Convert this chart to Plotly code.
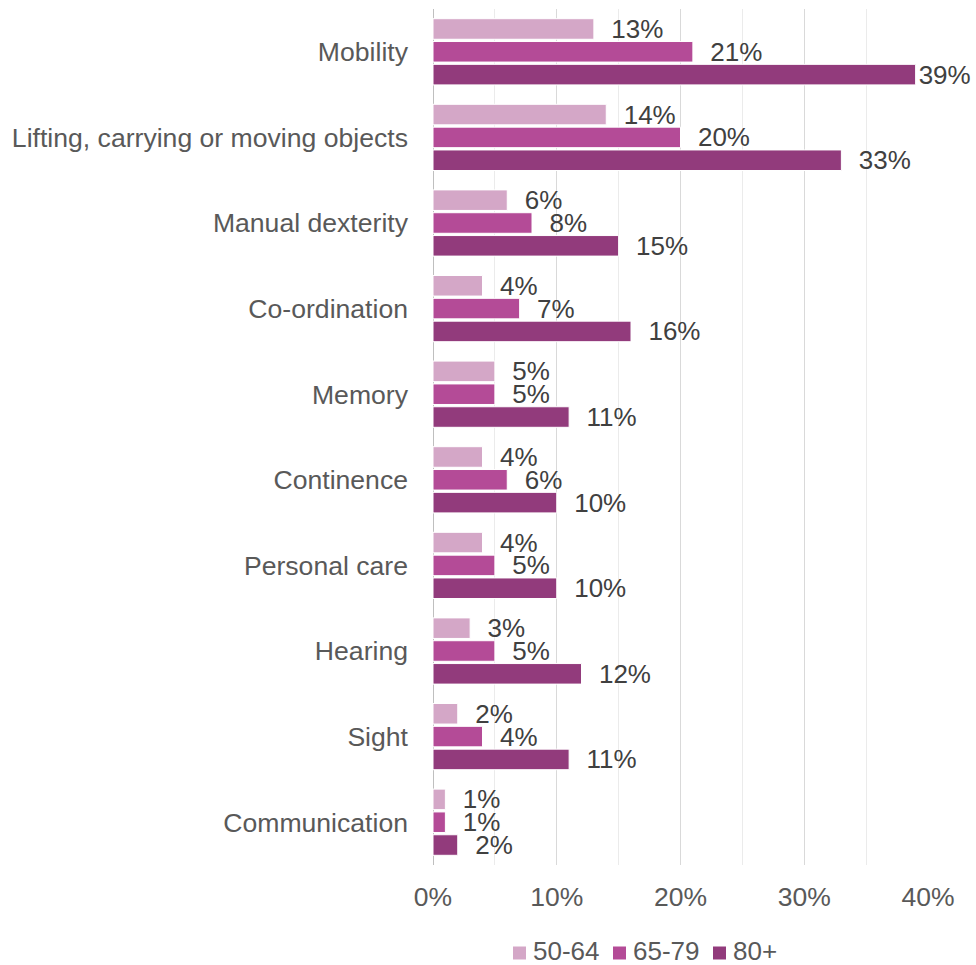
import plotly.graph_objects as go

categories = ["Mobility", "Lifting, carrying or moving objects", "Manual dexterity",
              "Co-ordination", "Memory", "Continence", "Personal care",
              "Hearing", "Sight", "Communication"]
age_50_64 = [13, 14, 6, 4, 5, 4, 4, 3, 2, 1]
age_65_79 = [21, 20, 8, 7, 5, 6, 5, 5, 4, 1]
age_80_plus = [39, 33, 15, 16, 11, 10, 10, 12, 11, 2]
series_names = ["50-64", "65-79", "80+"]
series_colors = ["#D4A7C7", "#B44B97", "#923B7C"]
x_ticks = [0, 0.1, 0.2, 0.3, 0.4]
x_tick_labels = ["0%", "10%", "20%", "30%", "40%"]

FONT = "Arial, 'Liberation Sans', sans-serif"

# figure geometry (pixels)
W, H = 976, 965
M_L, M_R, M_T, M_B = 433, 48, 9, 100
PLOT_W = W - M_L - M_R
PLOT_H = H - M_T - M_B


def px_to_paper_x(px):
    return (px - M_L) / PLOT_W


def px_to_paper_y(py):
    return (H - M_B - py) / PLOT_H


def labels(values):
    out = []
    for v in values:
        pad = "" if v >= 38 else "\u00a0\u00a0"
        out.append(f"{pad}{v}%")
    return out


fig = go.Figure()
for name, vals, col in zip(series_names, [age_50_64, age_65_79, age_80_plus], series_colors):
    fig.add_trace(go.Bar(
        y=categories,
        x=[v / 100 for v in vals],
        name=name,
        orientation="h",
        marker=dict(color=col, line=dict(color="white", width=1)),
        text=labels(vals),
        textposition="outside",
        constraintext="none",
        cliponaxis=False,
        textfont=dict(family=FONT, size=26, color="#404040"),
        hoverinfo="skip",
        showlegend=False,
    ))

# compact legend: small colour squares followed by series names
LEG_X0, LEG_STEP, LEG_Y, SQ = 513, 100, 951, 13
for i, (name, col) in enumerate(zip(series_names, series_colors)):
    x0 = LEG_X0 + i * LEG_STEP
    fig.add_shape(type="rect", xref="paper", yref="paper",
                  x0=px_to_paper_x(x0), x1=px_to_paper_x(x0 + SQ),
                  y0=px_to_paper_y(LEG_Y + 2 + SQ / 2), y1=px_to_paper_y(LEG_Y + 2 - SQ / 2),
                  fillcolor=col, line=dict(width=0))
    fig.add_annotation(x=px_to_paper_x(x0 + SQ + 6), y=px_to_paper_y(LEG_Y),
                       xref="paper", yref="paper", xanchor="left", yanchor="middle",
                       text=name, showarrow=False, borderpad=0,
                       font=dict(family=FONT, size=26, color="#595959"))

fig.update_layout(
    width=W, height=H,
    paper_bgcolor="white", plot_bgcolor="white",
    barmode="group", bargap=0.2, bargroupgap=0.1,
    margin=dict(l=M_L, r=M_R, t=M_T, b=M_B),
    font=dict(family=FONT, color="#595959"),
    xaxis=dict(range=[0, 0.4], tickvals=x_ticks, ticktext=x_tick_labels,
               tickfont=dict(family=FONT, size=26.5, color="#595959"),
               showgrid=True, gridcolor="#D9D9D9", gridwidth=1,
               minor=dict(dtick=0.05, showgrid=True, gridcolor="#EBEBEB", gridwidth=1),
               zeroline=True, zerolinecolor="#BFBFBF", zerolinewidth=1,
               ticklabelstandoff=13, fixedrange=True),
    yaxis=dict(autorange="reversed", tickfont=dict(family=FONT, size=26.6, color="#595959"),
               showgrid=False, ticklabelstandoff=24, fixedrange=True),
)

fig.write_html("out.html")
